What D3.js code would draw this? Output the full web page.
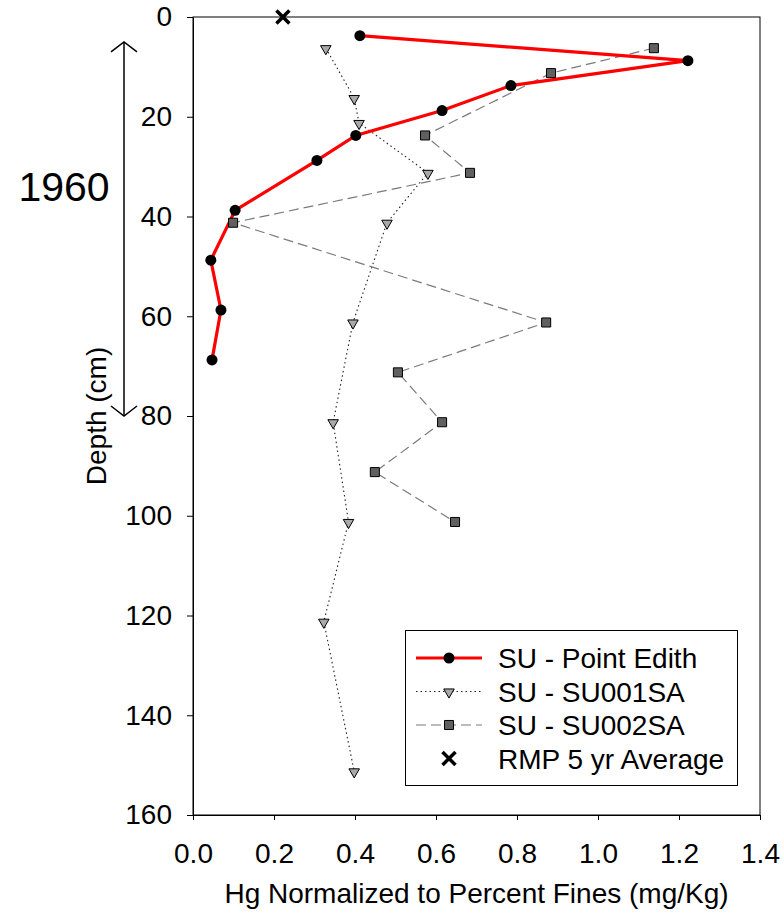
<!DOCTYPE html>
<html>
<head>
<meta charset="utf-8">
<script src="https://cdn.jsdelivr.net/npm/d3@7"></script>
<style>
  html, body { margin: 0; padding: 0; background: #fff; }
  svg { display: block; font-family: "Liberation Sans", Arial, sans-serif; }
</style>
</head>
<body>
<script>
// ---------- data ----------
const edithDepth = [3.75, 8.75, 13.75, 18.75, 23.75, 28.75, 38.75, 48.75, 58.75, 68.75];
const edithHg    = [0.412, 1.222, 0.785, 0.615, 0.402, 0.306, 0.104, 0.044, 0.069, 0.047];
const su001Depth = [6.25, 16.25, 21.25, 31.25, 41.25, 61.25, 81.25, 101.25, 121.25, 151.25];
const su001Hg    = [0.328, 0.398, 0.410, 0.580, 0.479, 0.395, 0.346, 0.384, 0.323, 0.398];
const su002Depth = [6.25, 11.25, 23.75, 31.25, 41.25, 61.25, 71.25, 81.25, 91.25, 101.25];
const su002Hg    = [1.138, 0.884, 0.573, 0.684, 0.099, 0.872, 0.506, 0.615, 0.449, 0.647];
const rmpDepth   = [0];
const rmpHg      = [0.222];
const xTicks = [0, 0.2, 0.4, 0.6, 0.8, 1.0, 1.2, 1.4];
const yTicks = [0, 20, 40, 60, 80, 100, 120, 140, 160];
const seriesNames = ["SU - Point Edith", "SU - SU001SA", "SU - SU002SA", "RMP 5 yr Average"];
const xTitle = "Hg Normalized to Percent Fines (mg/Kg)";
const yTitle = "Depth (cm)";
const periodLabel = "1960";
const periodRange = [5, 80];

// ---------- setup ----------
const W = 784, H = 915;
const FS = 28;
const svg = d3.select("body").append("svg").attr("width", W).attr("height", H);
const x = d3.scaleLinear().domain([0, 1.4]).range([193, 760]);
const y = d3.scaleLinear().domain([0, 160]).range([17, 815]);

const zip = (ds, vs) => ds.map((d, i) => ({ d: d, v: vs[i] }));
const edith = zip(edithDepth, edithHg);
const su001 = zip(su001Depth, su001Hg);
const su002 = zip(su002Depth, su002Hg);
const rmp = zip(rmpDepth, rmpHg);

// frame
svg.append("rect")
  .attr("x", x(0)).attr("y", y(0))
  .attr("width", x(1.4) - x(0)).attr("height", y(160) - y(0))
  .attr("fill", "none").attr("stroke", "#000").attr("stroke-width", 1);

// axes
const gy = svg.append("g").attr("transform", `translate(${x(0)},0)`)
  .call(d3.axisLeft(y).tickValues(yTicks).tickSize(6).tickPadding(15).tickSizeOuter(0));
gy.selectAll("text").attr("font-size", FS).attr("font-family", "Liberation Sans, Arial, sans-serif").attr("fill", "#000");

const gx = svg.append("g").attr("transform", `translate(0,${y(160)})`)
  .call(d3.axisBottom(x).tickValues(xTicks).tickFormat(d3.format(".1f")).tickSize(5).tickPadding(23).tickSizeOuter(0));
gx.selectAll("text").attr("font-size", FS).attr("font-family", "Liberation Sans, Arial, sans-serif").attr("fill", "#000");
svg.selectAll(".domain, .tick line").attr("stroke", "#000");

// axis titles
svg.append("text").attr("x", (x(0) + x(1.4)) / 2).attr("y", 903)
  .attr("text-anchor", "middle").attr("font-size", FS).text(xTitle);

svg.append("text")
  .attr("transform", `translate(106,${y(80)}) rotate(-90)`)
  .attr("text-anchor", "middle").attr("font-size", FS).text(yTitle);

// period annotation: double arrow + label
const ax0 = 124;
const arrow = svg.append("g").attr("stroke", "#000").attr("stroke-width", 1.5).attr("fill", "none");
arrow.append("line").attr("x1", ax0).attr("x2", ax0).attr("y1", y(periodRange[0])).attr("y2", y(periodRange[1]));
arrow.append("path").attr("d", `M${ax0 - 13},${y(periodRange[0]) + 10}L${ax0},${y(periodRange[0])}L${ax0 + 13},${y(periodRange[0]) + 10}`);
arrow.append("path").attr("d", `M${ax0 - 13},${y(periodRange[1]) - 10}L${ax0},${y(periodRange[1])}L${ax0 + 13},${y(periodRange[1]) - 10}`);
svg.append("text").attr("x", 64).attr("y", 201).attr("text-anchor", "middle")
  .attr("font-size", 41).text(periodLabel);

// lines
const line = d3.line().x(p => x(p.v)).y(p => y(p.d));
svg.append("path").datum(su001).attr("d", line)
  .attr("fill", "none").attr("stroke", "#222").attr("stroke-width", 1.1).attr("stroke-dasharray", "1.5,3");
svg.append("path").datum(su002).attr("d", line)
  .attr("fill", "none").attr("stroke", "#7a7a7a").attr("stroke-width", 1.2).attr("stroke-dasharray", "10,5");
svg.append("path").datum(edith).attr("d", line)
  .attr("fill", "none").attr("stroke", "#ff0000").attr("stroke-width", 3.2);

// markers
const tri = d3.symbol().type(d3.symbolTriangle).size(48)();
const sq = d3.symbol().type(d3.symbolSquare).size(82)();
const xMark = "M-6.5,-6.5L6.5,6.5M-6.5,6.5L6.5,-6.5";

svg.append("g").selectAll("path").data(su001).join("path")
  .attr("d", tri).attr("transform", p => `translate(${x(p.v)},${y(p.d) + 0.5}) rotate(180)`)
  .attr("fill", "#a9a9a9").attr("stroke", "#000").attr("stroke-width", 1);
svg.append("g").selectAll("path").data(su002).join("path")
  .attr("d", sq).attr("transform", p => `translate(${x(p.v)},${y(p.d)})`)
  .attr("fill", "#606060").attr("stroke", "#000").attr("stroke-width", 1);
svg.append("g").selectAll("circle").data(edith).join("circle")
  .attr("cx", p => x(p.v)).attr("cy", p => y(p.d)).attr("r", 5.5).attr("fill", "#000");
svg.append("g").selectAll("path").data(rmp).join("path")
  .attr("d", xMark).attr("transform", p => `translate(${x(p.v)},${y(p.d)})`)
  .attr("fill", "none").attr("stroke", "#000").attr("stroke-width", 3.5);

// legend
const lg = svg.append("g");
lg.append("rect").attr("x", 405.5).attr("y", 630.5).attr("width", 332).attr("height", 155)
  .attr("fill", "#fff").attr("stroke", "#000").attr("stroke-width", 1);
const rowY = [658, 691.5, 725, 758.5];
const lx1 = 416, lx2 = 482, lm = 449, ltx = 498;
// row 1
lg.append("line").attr("x1", lx1).attr("x2", lx2).attr("y1", rowY[0]).attr("y2", rowY[0])
  .attr("stroke", "#ff0000").attr("stroke-width", 3.2);
lg.append("circle").attr("cx", lm).attr("cy", rowY[0]).attr("r", 5.5).attr("fill", "#000");
// row 2
lg.append("line").attr("x1", lx1).attr("x2", lx2).attr("y1", rowY[1]).attr("y2", rowY[1])
  .attr("stroke", "#222").attr("stroke-width", 1.1).attr("stroke-dasharray", "1.5,3");
lg.append("path").attr("d", tri).attr("transform", `translate(${lm},${rowY[1] + 0.5}) rotate(180)`)
  .attr("fill", "#a9a9a9").attr("stroke", "#000");
// row 3
lg.append("line").attr("x1", lx1).attr("x2", lx2).attr("y1", rowY[2]).attr("y2", rowY[2])
  .attr("stroke", "#7a7a7a").attr("stroke-width", 1.2).attr("stroke-dasharray", "10,5");
lg.append("path").attr("d", sq).attr("transform", `translate(${lm},${rowY[2]})`)
  .attr("fill", "#606060").attr("stroke", "#000");
// row 4
lg.append("path").attr("d", xMark).attr("transform", `translate(${lm},${rowY[3]})`)
  .attr("fill", "none").attr("stroke", "#000").attr("stroke-width", 3.5);
lg.selectAll("text.lbl").data(seriesNames).join("text").attr("class", "lbl")
  .attr("x", ltx).attr("y", (d, i) => rowY[i] + 10).attr("font-size", FS).text(d => d);
</script>
</body>
</html>
